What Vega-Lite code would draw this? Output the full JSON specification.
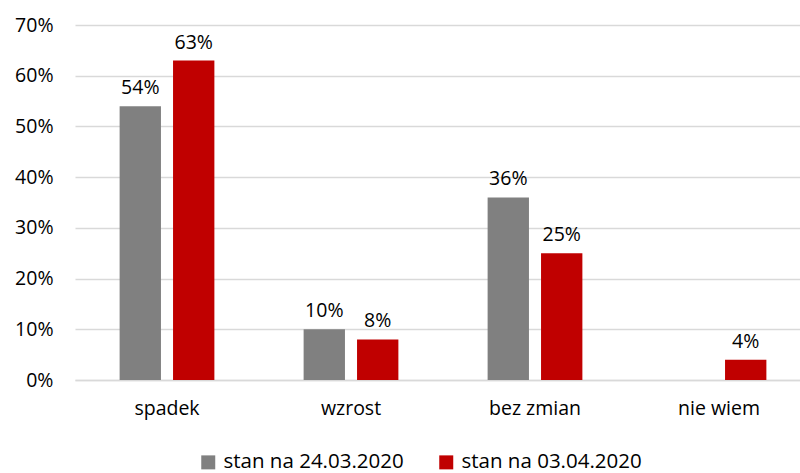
{
  "$schema": "https://vega.github.io/schema/vega-lite/v6.json",
  "autosize": "none",
  "width": 736,
  "height": 355,
  "padding": {"left": 75, "top": 25, "right": 0, "bottom": 93},
  "background": "white",
  "config": {
    "font": "Open Sans",
    "view": {"stroke": null},
    "axis": {"labelFont": "Open Sans", "labelFontSize": 19.5, "labelColor": "#000000"}
  },
  "data": {
    "values": [
      {"kategoria": "spadek", "seria": "stan na 24.03.2020", "wartosc": 0.54},
      {"kategoria": "spadek", "seria": "stan na 03.04.2020", "wartosc": 0.63},
      {"kategoria": "wzrost", "seria": "stan na 24.03.2020", "wartosc": 0.10},
      {"kategoria": "wzrost", "seria": "stan na 03.04.2020", "wartosc": 0.08},
      {"kategoria": "bez zmian", "seria": "stan na 24.03.2020", "wartosc": 0.36},
      {"kategoria": "bez zmian", "seria": "stan na 03.04.2020", "wartosc": 0.25},
      {"kategoria": "nie wiem", "seria": "stan na 24.03.2020", "wartosc": 0},
      {"kategoria": "nie wiem", "seria": "stan na 03.04.2020", "wartosc": 0.04}
    ]
  },
  "encoding": {
    "x": {
      "field": "kategoria", "type": "nominal",
      "sort": ["spadek", "wzrost", "bez zmian", "nie wiem"],
      "scale": {"paddingInner": 0.485, "paddingOuter": 0.2425},
      "axis": {"title": null, "labelAngle": 0, "ticks": false, "domain": true, "domainColor": "#d9d9d9", "domainWidth": 1.5, "labelPadding": 19}
    },
    "xOffset": {
      "field": "seria", "type": "nominal",
      "sort": ["stan na 24.03.2020", "stan na 03.04.2020"],
      "scale": {"paddingInner": 0.226, "paddingOuter": 0}
    },
    "y": {
      "field": "wartosc", "type": "quantitative",
      "scale": {"domain": [0, 0.7]},
      "axis": {"title": null, "format": ".0%", "values": [0, 0.1, 0.2, 0.3, 0.4, 0.5, 0.6, 0.7], "labelOverlap": false, "labelFlush": false, "domain": false, "ticks": false, "gridColor": "#d9d9d9", "gridWidth": 1.5, "labelPadding": 22}
    }
  },
  "layer": [
    {
      "mark": {"type": "bar"},
      "encoding": {
        "color": {
          "field": "seria", "type": "nominal",
          "sort": ["stan na 24.03.2020", "stan na 03.04.2020"],
          "scale": {"domain": ["stan na 24.03.2020", "stan na 03.04.2020"], "range": ["#808080", "#C00000"]},
          "legend": {
            "title": null, "orient": "none", "direction": "horizontal",
            "legendX": 123, "legendY": 427,
            "symbolType": "square", "symbolSize": 196, "symbolStrokeWidth": 0,
            "labelFontSize": 20.5, "labelFont": "Open Sans", "labelColor": "#000000", "labelLimit": 400,
            "columnPadding": 32, "labelOffset": 5
          }
        }
      }
    },
    {
      "transform": [{"filter": "datum.wartosc > 0"}],
      "mark": {"type": "text", "baseline": "bottom", "dy": -8, "fontSize": 19.5, "font": "Open Sans", "color": "#000000"},
      "encoding": {
        "text": {"field": "wartosc", "type": "quantitative", "format": ".0%"}
      }
    }
  ]
}
